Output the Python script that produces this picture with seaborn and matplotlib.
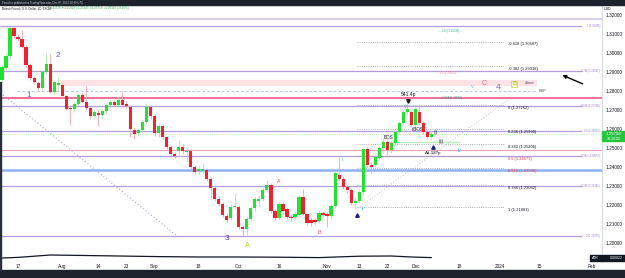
import numpy as np
import pandas as pd
import matplotlib
matplotlib.use("Agg")
import matplotlib.pyplot as plt
from matplotlib.patches import Rectangle
import seaborn as sns

# GBPUSD daily candles, 11 Jul -> 7 Dec 2023
opens = [1.2858, 1.2921, 1.2984, 1.3132, 1.3084, 1.3074, 1.3032, 1.2937, 1.2868, 1.2842,
         1.2816, 1.2900, 1.2942, 1.2795, 1.2832, 1.2832, 1.2774, 1.2711, 1.2705, 1.2732,
         1.2779, 1.2742, 1.2711, 1.2668, 1.2684, 1.2674, 1.2695, 1.2726, 1.2742, 1.2726,
         1.2753, 1.2732, 1.2716, 1.2595, 1.2579, 1.2595, 1.2637, 1.2716, 1.2668, 1.2579,
         1.2616, 1.2558, 1.2505, 1.2468, 1.2484, 1.2505, 1.2479, 1.2484, 1.2400, 1.2379,
         1.2379, 1.2384, 1.2337, 1.2289, 1.2232, 1.2205, 1.2142, 1.2132, 1.2189, 1.2189,
         1.2084, 1.2074, 1.2126, 1.2184, 1.2221, 1.2232, 1.2279, 1.2305, 1.2168, 1.2132,
         1.2205, 1.2179, 1.2137, 1.2137, 1.2147, 1.2242, 1.2153, 1.2121, 1.2121, 1.2116,
         1.2158, 1.2153, 1.2142, 1.2195, 1.2358, 1.2337, 1.2295, 1.2279, 1.2211, 1.2221,
         1.2268, 1.2495, 1.2411, 1.2411, 1.2447, 1.2500, 1.2532, 1.2489, 1.2526, 1.2584,
         1.2632, 1.2689, 1.2689, 1.2621, 1.2689, 1.2632, 1.2584, 1.2558]
highs = [1.2935, 1.2995, 1.3137, 1.3144, 1.3100, 1.3121, 1.3040, 1.2945, 1.2880, 1.2850,
         1.2910, 1.2995, 1.2995, 1.2855, 1.2868, 1.2840, 1.2780, 1.2720, 1.2745, 1.2790,
         1.2790, 1.2826, 1.2718, 1.2700, 1.2700, 1.2705, 1.2735, 1.2755, 1.2755, 1.2770,
         1.2795, 1.2745, 1.2725, 1.2610, 1.2605, 1.2645, 1.2737, 1.2725, 1.2678, 1.2625,
         1.2625, 1.2565, 1.2515, 1.2480, 1.2542, 1.2520, 1.2500, 1.2495, 1.2410, 1.2405,
         1.2421, 1.2392, 1.2345, 1.2300, 1.2245, 1.2215, 1.2160, 1.2200, 1.2263, 1.2200,
         1.2095, 1.2135, 1.2195, 1.2240, 1.2255, 1.2290, 1.2332, 1.2315, 1.2180, 1.2215,
         1.2215, 1.2190, 1.2150, 1.2165, 1.2255, 1.2284, 1.2160, 1.2135, 1.2132, 1.2168,
         1.2170, 1.2165, 1.2205, 1.2380, 1.2453, 1.2350, 1.2310, 1.2290, 1.2235, 1.2278,
         1.2505, 1.2505, 1.2425, 1.2465, 1.2510, 1.2545, 1.2545, 1.2535, 1.2595, 1.2640,
         1.2700, 1.2737, 1.2700, 1.2716, 1.2733, 1.2642, 1.2595, 1.2591]
lows = [1.2840, 1.2910, 1.2975, 1.3080, 1.3065, 1.3025, 1.2928, 1.2860, 1.2838, 1.2805,
        1.2808, 1.2890, 1.2790, 1.2785, 1.2795, 1.2765, 1.2698, 1.2621, 1.2690, 1.2722,
        1.2735, 1.2700, 1.2655, 1.2655, 1.2616, 1.2660, 1.2685, 1.2715, 1.2715, 1.2718,
        1.2715, 1.2710, 1.2558, 1.2547, 1.2565, 1.2585, 1.2628, 1.2655, 1.2565, 1.2560,
        1.2545, 1.2495, 1.2455, 1.2445, 1.2450, 1.2470, 1.2426, 1.2390, 1.2365, 1.2365,
        1.2370, 1.2325, 1.2237, 1.2220, 1.2195, 1.2135, 1.2110, 1.2120, 1.2180, 1.2075,
        1.2037, 1.2040, 1.2115, 1.2170, 1.2189, 1.2220, 1.2268, 1.2160, 1.2120, 1.2120,
        1.2155, 1.2125, 1.2115, 1.2125, 1.2135, 1.2145, 1.2095, 1.2090, 1.2098, 1.2105,
        1.2135, 1.2084, 1.2130, 1.2185, 1.2325, 1.2285, 1.2265, 1.2200, 1.2184, 1.2210,
        1.2255, 1.2398, 1.2368, 1.2398, 1.2435, 1.2490, 1.2453, 1.2475, 1.2515, 1.2575,
        1.2620, 1.2680, 1.2610, 1.2610, 1.2620, 1.2575, 1.2545, 1.2545]
closes = [1.2926, 1.2984, 1.3132, 1.3089, 1.3074, 1.3032, 1.2937, 1.2868, 1.2847, 1.2816,
          1.2900, 1.2942, 1.2795, 1.2847, 1.2842, 1.2774, 1.2705, 1.2705, 1.2732, 1.2779,
          1.2742, 1.2711, 1.2668, 1.2689, 1.2674, 1.2695, 1.2726, 1.2742, 1.2726, 1.2753,
          1.2726, 1.2721, 1.2600, 1.2574, 1.2595, 1.2637, 1.2716, 1.2668, 1.2579, 1.2616,
          1.2558, 1.2505, 1.2468, 1.2458, 1.2505, 1.2484, 1.2484, 1.2400, 1.2374, 1.2389,
          1.2389, 1.2337, 1.2289, 1.2232, 1.2205, 1.2147, 1.2121, 1.2189, 1.2195, 1.2084,
          1.2074, 1.2126, 1.2184, 1.2232, 1.2232, 1.2279, 1.2305, 1.2168, 1.2132, 1.2205,
          1.2168, 1.2137, 1.2132, 1.2153, 1.2242, 1.2153, 1.2105, 1.2105, 1.2111, 1.2158,
          1.2147, 1.2142, 1.2195, 1.2368, 1.2337, 1.2295, 1.2279, 1.2211, 1.2221, 1.2268,
          1.2495, 1.2411, 1.2400, 1.2453, 1.2500, 1.2532, 1.2489, 1.2526, 1.2584, 1.2632,
          1.2689, 1.2705, 1.2621, 1.2705, 1.2632, 1.2584, 1.2558, 1.2576]

# ATR pane (sampled along the curve)
atr_bars = [0, 4, 12, 19, 29, 39, 49, 59, 69, 79, 89, 97, 102, 107]
atr_vals = [0.0080, 0.0083, 0.0095, 0.0093, 0.0090, 0.0087, 0.0085, 0.0085, 0.0084, 0.0082,
            0.0089, 0.0090, 0.0085, 0.0082]

# fib retracement (purple, labelled at the right edge)
fib_levels = ["1", "0.786", "0.618", "0.5", "0.382", "0.236", "0"]
fib_prices = [1.31435, 1.29067, 1.27208, 1.25902, 1.24597, 1.22981, 1.20370]

# fib extension (dotted, black labels)
ext_levels = ["-0.618", "-0.382", "0", "0.236", "0.382", "0.5", "0.618", "0.786", "1"]
ext_prices = [1.30587, 1.29318, 1.27262, 1.25990, 1.25206, 1.24571, 1.23936, 1.23032, 1.21881]

tick_dates = ["2023-07-17", "2023-08-01", "2023-08-14", "2023-08-23", "2023-09-01",
              "2023-09-18", "2023-10-02", "2023-10-16", "2023-11-01", "2023-11-13",
              "2023-11-22", "2023-12-01", "2023-12-18", "2024-01-01", "2024-01-15",
              "2024-02-01"]
tick_labels = ["17", "Aug", "14", "23", "Sep", "18", "Oct", "16", "Nov", "13", "22",
               "Dec", "18", "2024", "15", "Feb"]
price_ticks = [1.20, 1.21, 1.22, 1.23, 1.24, 1.25, 1.26, 1.27, 1.28, 1.29, 1.30, 1.31, 1.32]

sns.set_style("white")
plt.rcParams["font.family"] = ["Liberation Sans", "DejaVu Sans"]

W, H = 625, 278
fig = plt.figure(figsize=(W / 100, H / 100), dpi=100)


def box(x0, y0, x1, y1):
    return [x0 / W, 1 - y1 / H, (x1 - x0) / W, (y1 - y0) / H]


ax = fig.add_axes(box(0, 5, 602, 254))
ax_atr = fig.add_axes(box(0, 254, 602, 262))

# ---- candles
df = pd.DataFrame({"open": opens, "high": highs, "low": lows, "close": closes})
df["bar"] = np.arange(len(df))
up = (df["close"] >= df["open"]).values
ax.vlines(df["bar"], df["low"], df["high"], colors=np.where(up, "#9fe8a3", "#f7a5a8"),
          lw=0.6, zorder=3)
ax.bar(df["bar"], np.maximum((df["close"] - df["open"]).abs(), 0.0003),
       bottom=df[["open", "close"]].min(axis=1), width=0.8,
       color=np.where(up, "#1ee32f", "#f5202e"), lw=0, zorder=4)

XL, XR = -0.5, 149.5
ax.set_xlim(XL, XR)
ax.set_ylim(1.19421, 1.32526)

# ---- horizontal levels
ax.hlines(1.3179, XL, XR, color="#d6cbef", lw=1.3, zorder=1)
ax.hlines(1.2765, XL, XR, color="#f0648c", lw=1.3, zorder=1)
ax.hlines(1.2489, XL, XR, color="#f5a0b5", lw=0.8, zorder=1)
ax.hlines(1.2384, XL, XR, color="#8db2f2", lw=1.8, zorder=1)
ax.hlines(1.25758, XL, XR, color="#7ee08a", lw=0.5, ls=":", zorder=1)
ax.hlines(1.2532, 96.7, 114, color="#b9efb9", lw=1, zorder=1)
ax.fill_between([14, 133.3], 1.2826, 1.2858, color="#fde2e6", lw=0, zorder=0)
ax.hlines(1.2800, 3.7, 133.3, color="#b8c8ea", lw=0.7, ls=(0, (3, 2)), zorder=1)

for lvl, p in zip(fib_levels, fib_prices):
    ax.hlines(p, XL, 144.5, color="#b39ddb", lw=0.9, zorder=2)
    ax.text(149.0, p, f"{lvl} ({p:.5f})", ha="right", va="center", fontsize=1.9,
            color="#9575cd", zorder=5)

for lvl, p in zip(ext_levels, ext_prices):
    ax.hlines(p, 88.5, 125.3, color="#9598a1", lw=0.6, ls=":", zorder=2)
    col = "#f23645" if lvl in ("0.5", "0.618") else "#131722"
    ax.text(126.1, p - 0.0003, f"{lvl} ({p:.5f})", ha="left", va="top", fontsize=2.9,
            color=col, zorder=5)

ax.text(111.6, 1.3116, "- - 1.62 (1.31038) - -", ha="center", va="center", fontsize=2,
        color="#22ab94")
ax.text(110.9, 1.28947, "- - 1.5 (1.28804) - -", ha="center", va="center", fontsize=2,
        color="#f48fb1")
ax.text(112.1, 1.2763, "- - 0.618 (1.27652) - -", ha="center", va="center", fontsize=2,
        color="#22ab94", zorder=5)

# diagonals
ax.plot([0.25, 43.9], [1.2779, 1.2032], color="#9f94d8", lw=0.7, ls=(0, (1, 2.5)), zorder=2)
ax.plot([88.7, 126.1], [1.2184, 1.2753], color="#b0b3ba", lw=0.6, ls=(0, (1, 2.5)), zorder=2)

# ---- wave labels
purple = "#7b5cc4"
cyan = "#4fc3e0"
ax.text(6.7, 1.2774, "1", color=purple, fontsize=6, ha="center", va="center")
ax.text(14.0, 1.2989, "2", color=purple, fontsize=6, ha="center", va="center")
ax.text(56.1, 1.2026, "3", color="#5e35b1", fontsize=6, ha="center", va="center")
ax.text(123.6, 1.2821, "4", color=purple, fontsize=6, ha="center", va="center")
ax.text(61.3, 1.1989, "A", color="#c6d631", fontsize=5.5, ha="center", va="center")
ax.text(69.0, 1.2326, "A", color="#f05a5a", fontsize=3.8, ha="center", va="center")
ax.text(79.0, 1.2053, "B", color="#e8588a", fontsize=4, ha="center", va="center")
ax.text(120.1, 1.2837, "C", color="#f05a7a", fontsize=5, ha="center", va="center")
ax.text(117.1, 1.2826, "v", color=cyan, fontsize=4, ha="center", va="center")
ax.text(127.6, 1.2837, "B", color="#b5c22a", fontsize=4.5, ha="center", va="center",
        bbox=dict(boxstyle="square,pad=0.15", fc="#f0f4c3", ec="#c0ca33", lw=0.4))
ax.text(130.3, 1.2842, "Zone", color="#555555", fontsize=3.2, ha="left", va="center")
ax.text(133.6, 1.2800, "ESP", color="#555555", fontsize=2.8, ha="left", va="center")
ax.text(84.7, 1.2437, "i", color=cyan, fontsize=4, ha="center", va="center")
ax.text(90.0, 1.2179, "ii", color=cyan, fontsize=4, ha="center", va="center")
ax.text(100.9, 1.2716, "iii", color=cyan, fontsize=4, ha="center", va="center")
ax.text(114.1, 1.2489, "iv", color=cyan, fontsize=4, ha="center", va="center")
ax.text(101.4, 1.2779, "541.4p", color="#131722", fontsize=3.6, ha="center", va="center")
ax.plot([101.2], [1.2747], marker="v", ms=2.5, color="#131722", zorder=6)
ax.text(96.4, 1.2553, "BOS", color="#131722", fontsize=3.3, ha="center", va="center")
ax.text(103.7, 1.2595, "i.BOS", color="#131722", fontsize=3.3, ha="center", va="center")
ax.text(108.1, 1.2579, "(i)", color="#131722", fontsize=3.3, ha="center", va="center")
ax.text(109.4, 1.2532, "(ii)", color="#131722", fontsize=3.3, ha="center", va="center")
ax.plot([107.4], [1.2505], marker="^", ms=2.5, color="#1a237e", zorder=6)
ax.plot([88.5], [1.2147], marker="^", ms=2.5, color="#1a237e", zorder=6)
ax.text(107.4, 1.2474, "Ad-187p", color="#131722", fontsize=3.2, ha="center", va="center")
ax.annotate("", xy=(139.0, 1.2889), xytext=(145.3, 1.2832),
            arrowprops=dict(arrowstyle="-|>", color="black", lw=1, mutation_scale=5))

# ---- axes styling
ax.yaxis.tick_right()
ax.set_yticks(price_ticks)
ax.set_yticklabels([f"{p:.5f}" for p in price_ticks])
ax.tick_params(axis="y", length=0, labelsize=3.4, pad=2.5, colors="#131722")
ax.tick_params(axis="x", bottom=False, labelbottom=False)
for s in ["top", "left"]:
    ax.spines[s].set_visible(False)
ax.spines["right"].set_color("#d1d4dc")
ax.spines["right"].set_linewidth(0.6)
ax.spines["bottom"].set_color("#d1d4dc")
ax.spines["bottom"].set_linewidth(0.5)

sns.lineplot(x=atr_bars, y=atr_vals, ax=ax_atr, color="#131722", lw=0.9)
ax_atr.set_xlim(XL, XR)
ax_atr.set_ylim(0.006, 0.010)
ax_atr.set_yticks([])
ax_atr.set_xlabel("")
ax_atr.set_ylabel("")
all_days = pd.bdate_range("2023-07-11", "2024-02-09")
tick_pos = all_days.get_indexer(pd.to_datetime(tick_dates))
ax_atr.set_xticks(tick_pos)
ax_atr.set_xticklabels(tick_labels)
ax_atr.tick_params(axis="x", length=0, labelsize=3.4, pad=1.5, colors="#131722")
for s in ["top", "left", "bottom"]:
    ax_atr.spines[s].set_visible(False)
ax_atr.spines["right"].set_color("#d1d4dc")
ax_atr.spines["right"].set_linewidth(0.6)


# ---- frame pieces (figure pixels)
def fx(x):
    return x / W


def fy(y):
    return 1 - y / H


fig.add_artist(Rectangle((0, fy(5)), 1, 5 / H, transform=fig.transFigure,
                         color="#1e222d", zorder=10))
fig.add_artist(Rectangle((0, 0), 1, 8 / H, transform=fig.transFigure,
                         color="#1e222d", zorder=10))
fig.add_artist(Rectangle((0, fy(270)), 1.5 / W, 188 / H, transform=fig.transFigure,
                         color="#2a2e39", zorder=10))
fig.text(fx(2), fy(2.6), "Forexlive published on TradingView.com, Dec 07, 2023 10:39 UTC",
         fontsize=2, color="#c9ccd4", va="center", zorder=11)
fig.text(fx(2), fy(8.5), "British Pound / U.S. Dollar, 1D, FXCM", fontsize=2.1,
         color="#131722", va="center")
fig.text(fx(48), fy(8.5), "O1.25576  H1.25913  L1.25545  C1.25758  +0.00182 (+0.15%)",
         fontsize=2.1, color="#22ab55", va="center")
fig.text(fx(604), fy(9), "USD", fontsize=2.6, color="#131722", va="center")

fig.add_artist(Rectangle((fx(602), fy(141)), 23 / W, 10 / H, transform=fig.transFigure,
                         color="#26c53f", zorder=10))
fig.text(fx(613.5), fy(134), "1.25758", fontsize=3.2, color="white", ha="center",
         va="center", zorder=11)
fig.text(fx(613.5), fy(138.6), "10:20:02", fontsize=2.6, color="white", ha="center",
         va="center", zorder=11)

fig.add_artist(Rectangle((fx(590), fy(261)), 35 / W, 6 / H, transform=fig.transFigure,
                         color="#131722", zorder=10))
fig.text(fx(592), fy(258), "ATR", fontsize=2.5, color="white", va="center", zorder=11)
fig.text(fx(623), fy(258), "0.00822", fontsize=2.5, color="white", ha="right",
         va="center", zorder=11)

fig.savefig("out.png", dpi=100)
